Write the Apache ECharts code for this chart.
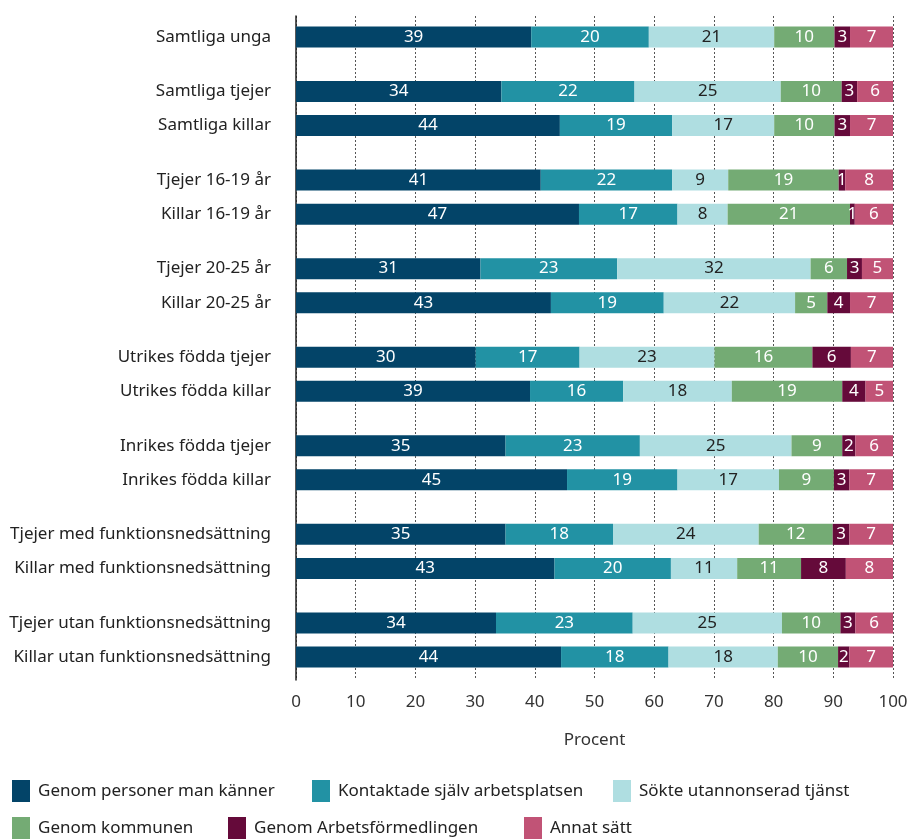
<!DOCTYPE html>
<html>
<head>
<meta charset="utf-8">
<script src="https://cdn.jsdelivr.net/npm/echarts@6/dist/echarts.min.js"></script>
<style>
  html, body { margin: 0; padding: 0; background: #fff; }
  #chart { width: 911px; height: 839px; }
</style>
</head>
<body>
<div id="chart"></div>
<script>
const categories = [
  "Samtliga unga",
  "Samtliga tjejer", "Samtliga killar",
  "Tjejer 16-19 år", "Killar 16-19 år",
  "Tjejer 20-25 år", "Killar 20-25 år",
  "Utrikes födda tjejer", "Utrikes födda killar",
  "Inrikes födda tjejer", "Inrikes födda killar",
  "Tjejer med funktionsnedsättning", "Killar med funktionsnedsättning",
  "Tjejer utan funktionsnedsättning", "Killar utan funktionsnedsättning"
];
const seriesNames = [
  "Genom personer man känner",
  "Kontaktade själv arbetsplatsen",
  "Sökte utannonserad tjänst",
  "Genom kommunen",
  "Genom Arbetsförmedlingen",
  "Annat sätt"
];
// procent per kategori
const personer = [39.4, 34.4, 44.2, 41.0, 47.4, 30.9, 42.7, 30.1, 39.2, 35.1, 45.4, 35.1, 43.3, 33.5, 44.4];
const kontakt = [19.7, 22.3, 18.8, 22.0, 16.5, 22.9, 18.9, 17.4, 15.6, 22.5, 18.5, 18.0, 19.5, 22.9, 18.0];
const sokte = [21.0, 24.5, 17.1, 9.4, 8.4, 32.4, 22.0, 22.6, 18.2, 25.4, 17.0, 24.4, 11.1, 25.0, 18.3];
const kommunen = [10.1, 10.2, 10.1, 18.5, 20.5, 6.1, 5.4, 16.4, 18.5, 8.5, 9.2, 12.4, 10.7, 9.8, 10.1];
const arbetsformedlingen = [2.6, 2.6, 2.6, 1.1, 0.8, 2.5, 3.8, 6.45, 3.9, 2.2, 2.6, 2.8, 7.5, 2.5, 1.9];
const annat = [7.2, 6.0, 7.2, 8.0, 6.4, 5.2, 7.2, 7.05, 4.6, 6.3, 7.3, 7.3, 7.9, 6.3, 7.3];
const xTicks = [0, 10, 20, 30, 40, 50, 60, 70, 80, 90, 100];

const colors = ["#034468", "#2292a4", "#afdee1", "#74ab74", "#650a3a", "#c15376"];
const labelColors = ["#fff", "#fff", "#222", "#fff", "#fff", "#fff"];
const allValues = [personer, kontakt, sokte, kommunen, arbetsformedlingen, annat];

// first row alone, then pairs: 5 slots within a pair, 8 slots between groups
function slotOf(i) {
  if (i === 0) return 0;
  return 8 + Math.floor((i - 1) / 2) * 13 + ((i - 1) % 2) * 5;
}
const nSlots = slotOf(categories.length - 1) + 1;
const slotLabels = new Array(nSlots).fill("");
categories.forEach((c, i) => { slotLabels[slotOf(i)] = c; });

function expand(arr) {
  const out = new Array(nSlots).fill("-");
  arr.forEach((v, i) => { out[slotOf(i)] = v; });
  return out;
}

const font = "Noto Sans";
const fs = 17;
const chart = echarts.init(document.getElementById("chart"));

const legendPos = [
  [12, 780], [312, 780], [613, 780],
  [12, 817], [228, 817], [524, 817]
];

chart.setOption({
  animation: false,
  textStyle: { fontFamily: font },
  grid: [
    { left: 296, right: 18, top: 33.6, bottom: 178.6 },
    { left: 296, right: 18, top: 16, bottom: 159 }
  ],
  legend: seriesNames.map((n, i) => ({
    data: [n],
    left: legendPos[i][0],
    top: legendPos[i][1],
    padding: 0,
    icon: "rect",
    itemWidth: 18,
    itemHeight: 22,
    selectedMode: false,
    textStyle: { fontSize: fs, color: "#222", fontFamily: font, padding: [0, 0, 0, 3] }
  })),
  xAxis: [
    { gridIndex: 0, type: "value", min: 0, max: 100, show: false },
    {
      gridIndex: 1,
      type: "value",
      min: xTicks[0],
      max: xTicks[xTicks.length - 1],
      interval: 10,
      axisLine: { show: false },
      axisTick: { show: false },
      axisLabel: { fontSize: fs, color: "#333", margin: 14, fontFamily: font },
      splitLine: { show: true, lineStyle: { type: [2, 2], color: "#555", width: 1 } },
      name: "Procent",
      nameLocation: "middle",
      nameGap: 52,
      nameTextStyle: { fontSize: fs, color: "#333", fontFamily: font }
    }
  ],
  yAxis: [
    {
      gridIndex: 0,
      type: "category",
      inverse: true,
      data: slotLabels,
      axisLine: { show: false },
      axisTick: { show: false },
      axisLabel: { interval: 0, fontSize: fs, color: "#222", margin: 25, fontFamily: font }
    },
    {
      gridIndex: 1,
      type: "value",
      min: 0,
      max: 1,
      axisLine: { show: true, lineStyle: { color: "#222", width: 1.5 } },
      axisTick: { show: false },
      axisLabel: { show: false },
      splitLine: { show: false }
    }
  ],
  series: seriesNames.map((n, i) => ({
    name: n,
    type: "bar",
    stack: "total",
    xAxisIndex: 0,
    yAxisIndex: 0,
    barWidth: 21,
    clip: false,
    itemStyle: { color: colors[i] },
    label: {
      show: true,
      position: "inside",
      fontSize: fs,
      fontFamily: font,
      color: labelColors[i],
      formatter: p => Math.round(p.value)
    },
    data: expand(allValues[i])
  }))
});
</script>
</body>
</html>
